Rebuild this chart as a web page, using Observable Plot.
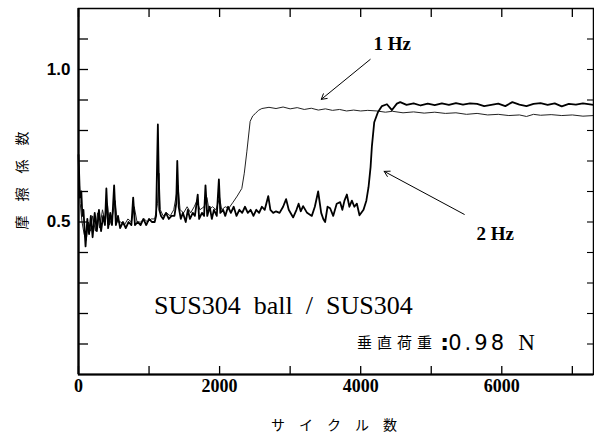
<!DOCTYPE html>
<html><head><meta charset="utf-8">
<script src="https://cdn.jsdelivr.net/npm/d3@7"></script>
<script src="https://cdn.jsdelivr.net/npm/@observablehq/plot@0.6"></script>
<style>
body{margin:0;background:#fff}
</style></head><body><div id="chart"></div>
<script>
// cycles vs friction coefficient, 1 Hz (thin) and 2 Hz (thick)
const hz1Cycles = [0,25,50,80,110,140,170,200,240,270,300,340,380,410,440,480,520,550,600,650,700,750,790,830,880,930,980,1030,1080,1120,1140,1160,1200,1250,1300,1350,1410,1440,1490,1540,1590,1640,1680,1720,1780,1820,1850,1900,1950,2000,2030,2080,2130,2191,2250,2315,2350,2386,2433,2470,2504,2550,2599,2700,2800,2900,3000,3100,3200,3300,3400,3500,3600,3700,3800,3900,4000,4100,4230,4350,4450,4600,4750,4900,5050,5200,5350,5500,5650,5800,5950,6100,6250,6350,6450,6550,6700,6850,7000,7150,7300];
const hz1Values = [0.70,0.56,0.50,0.46,0.44,0.50,0.47,0.52,0.47,0.53,0.48,0.54,0.50,0.56,0.49,0.52,0.57,0.50,0.50,0.49,0.51,0.50,0.55,0.50,0.50,0.51,0.50,0.51,0.51,0.56,0.66,0.54,0.52,0.53,0.52,0.54,0.62,0.54,0.53,0.55,0.53,0.55,0.57,0.54,0.55,0.58,0.54,0.55,0.54,0.58,0.54,0.55,0.545,0.565,0.585,0.61,0.66,0.73,0.83,0.848,0.855,0.866,0.872,0.876,0.872,0.877,0.871,0.875,0.869,0.873,0.867,0.871,0.866,0.869,0.864,0.867,0.864,0.866,0.864,0.860,0.863,0.858,0.861,0.857,0.860,0.856,0.858,0.853,0.856,0.851,0.853,0.849,0.851,0.846,0.853,0.850,0.852,0.849,0.851,0.847,0.849];

const hz2Cycles = [0,20,40,55,70,100,125,150,175,200,230,260,290,320,350,375,395,420,450,475,505,530,560,590,630,670,710,750,775,800,840,880,920,960,1000,1040,1080,1100,1125,1145,1170,1200,1240,1280,1320,1360,1385,1400,1420,1450,1480,1520,1550,1580,1620,1650,1690,1710,1750,1780,1800,1825,1860,1890,1920,1960,1990,2010,2050,2080,2120,2160,2200,2240,2280,2320,2360,2400,2440,2480,2520,2560,2600,2640,2690,2720,2760,2800,2850,2900,2943,2980,3043,3090,3120,3150,3184,3240,3307,3350,3397,3440,3470,3496,3530,3567,3610,3660,3709,3740,3770,3804,3840,3875,3910,3946,3983,4040,4080,4111,4140,4159,4192,4244,4301,4372,4443,4513,4560,4650,4750,4850,4950,5050,5150,5250,5350,5450,5550,5650,5750,5850,5950,6050,6150,6250,6350,6450,6550,6650,6750,6850,6950,7050,7150,7300];
const hz2Values = [0.72,0.58,0.60,0.52,0.54,0.42,0.51,0.46,0.52,0.45,0.53,0.47,0.54,0.47,0.52,0.49,0.61,0.48,0.53,0.49,0.62,0.49,0.52,0.48,0.50,0.48,0.50,0.49,0.58,0.49,0.50,0.49,0.51,0.49,0.51,0.50,0.50,0.52,0.82,0.54,0.52,0.51,0.53,0.51,0.52,0.52,0.56,0.70,0.55,0.51,0.53,0.50,0.54,0.51,0.53,0.52,0.59,0.51,0.53,0.52,0.62,0.52,0.55,0.51,0.54,0.52,0.64,0.53,0.54,0.52,0.55,0.53,0.55,0.52,0.54,0.53,0.55,0.53,0.54,0.52,0.54,0.53,0.55,0.54,0.585,0.54,0.53,0.535,0.53,0.55,0.575,0.54,0.515,0.54,0.56,0.535,0.552,0.53,0.52,0.55,0.60,0.53,0.51,0.50,0.55,0.545,0.52,0.56,0.565,0.54,0.57,0.59,0.55,0.57,0.55,0.56,0.522,0.54,0.57,0.614,0.68,0.749,0.827,0.86,0.88,0.886,0.867,0.888,0.893,0.884,0.889,0.882,0.888,0.883,0.889,0.884,0.890,0.885,0.889,0.887,0.880,0.884,0.888,0.880,0.893,0.885,0.880,0.887,0.890,0.884,0.889,0.879,0.887,0.885,0.889,0.884];

const xTicks = [0,1000,2000,3000,4000,5000,6000,7000];
const xTickLabels = [0,2000,4000,6000];
const yTicks = [0.1,0.2,0.3,0.4,0.5,0.6,0.7,0.8,0.9,1.0,1.1];
const yTickLabels = [0.5,1.0];
const xTitle = ["サ　イ　ク　ル　数"];
const yTitle = ["摩　擦　係　数"];

const arrows = [
  {x1: 4135, y1: 1.033, x2: 3441, y2: 0.902},
  {x1: 5468, y1: 0.525, x2: 4333, y2: 0.666}
];
const hzNotes = [
  {x: 4447, y: 1.085, text: "1 Hz"},
  {x: 5908, y: 0.460, text: "2 Hz"}
];
const titleNote = [{x: 1071, y: 0.227, text: "SUS304  ball  /  SUS304"}];
const loadLabel = [{x: 3946, y: 0.103, text: "垂直荷重"}];
const loadColon = [{x: 5190, y: 0.103, text: ":"}];
const loadValue = [{x: 5241, y: 0.103, text: "0.98"}];
const loadUnit = [{x: 6234, y: 0.103, text: "N"}];

const hz1 = hz1Cycles.map((c, i) => ({c, v: hz1Values[i]}));
const hz2 = hz2Cycles.map((c, i) => ({c, v: hz2Values[i]}));

const plot = Plot.plot({
  width: 594, height: 436,
  marginLeft: 78, marginRight: 1, marginTop: 8, marginBottom: 62,
  x: {domain: [0, 7300]},
  y: {domain: [0, 1.2]},
  style: {background: "#fff", color: "#000"},
  marks: [
    Plot.line(hz1, {x: "c", y: "v", stroke: "#222", strokeWidth: 1}),
    Plot.line(hz2, {x: "c", y: "v", stroke: "#000", strokeWidth: 1.8}),
    Plot.frame({stroke: "#000", strokeWidth: 1.5}),
    Plot.ruleX([0], {stroke: "#000", strokeWidth: 2.2}),
    Plot.ruleY([0], {stroke: "#000", strokeWidth: 2}),
    Plot.axisY({anchor: "left", ticks: yTicks, tickSize: -10, tickFormat: () => "", label: null, strokeWidth: 1.3}),
    Plot.axisY({anchor: "right", ticks: yTicks, tickSize: -7, tickFormat: () => "", label: null, strokeWidth: 1.1}),
    Plot.axisX({anchor: "bottom", ticks: xTicks, tickSize: -8, tickFormat: () => "", label: null, strokeWidth: 1.3}),
    Plot.axisX({anchor: "top", ticks: xTicks, tickSize: -8, tickFormat: () => "", label: null, strokeWidth: 1.3}),
    Plot.axisY({anchor: "left", ticks: yTickLabels, tickSize: 0, tickPadding: 8, tickFormat: d3.format(".1f"),
      fontSize: 17, fontWeight: "bold", fontFamily: "Liberation Sans", label: null}),
    Plot.axisX({anchor: "bottom", ticks: xTickLabels, tickSize: 0, tickPadding: 5, tickFormat: d => String(d),
      fontSize: 18, fontWeight: "bold", fontFamily: "Liberation Serif", label: null}),
    Plot.text(yTitle, {text: d => d, frameAnchor: "left", textAnchor: "middle", dx: -56, dy: -11, rotate: -90, fontFamily: "Noto Sans CJK JP", fontSize: 14, fill: "#000"}),
    Plot.text(xTitle, {text: d => d, frameAnchor: "bottom", textAnchor: "middle", dx: -2, dy: 55, fontFamily: "Noto Sans CJK JP", fontSize: 14, fill: "#000"}),
    Plot.arrow(arrows, {x1: "x1", y1: "y1", x2: "x2", y2: "y2", stroke: "#000", strokeWidth: 1, headLength: 9}),
    Plot.text(hzNotes, {x: "x", y: "y", text: "text", fontFamily: "Liberation Serif", fontWeight: "bold", fontSize: 19, fill: "#000"}),
    Plot.text(titleNote, {x: "x", y: "y", text: "text", textAnchor: "start", fontFamily: "Liberation Serif", fontSize: 26, fill: "#000"}),
    Plot.text(loadLabel, {x: "x", y: "y", text: "text", textAnchor: "start", fontFamily: "Noto Sans CJK JP", fontSize: 15, fill: "#000"}),
    Plot.text(loadColon, {x: "x", y: "y", text: "text", fontFamily: "DejaVu Sans", fontWeight: "bold", fontSize: 22, fill: "#000"}),
    Plot.text(loadValue, {x: "x", y: "y", text: "text", textAnchor: "start", fontFamily: "DejaVu Sans", fontSize: 21, fill: "#000"}),
    Plot.text(loadUnit, {x: "x", y: "y", text: "text", textAnchor: "start", fontFamily: "Liberation Serif", fontSize: 23, fill: "#000"})
  ]
});
// letter spacing styles
d3.select(plot).selectAll("text").filter(function() { return this.textContent === loadLabel[0].text; }).attr("letter-spacing", 5);
d3.select(plot).selectAll("text").filter(function() { return this.textContent === loadValue[0].text; }).attr("letter-spacing", 3);
document.getElementById("chart").appendChild(plot);
</script></body></html>
